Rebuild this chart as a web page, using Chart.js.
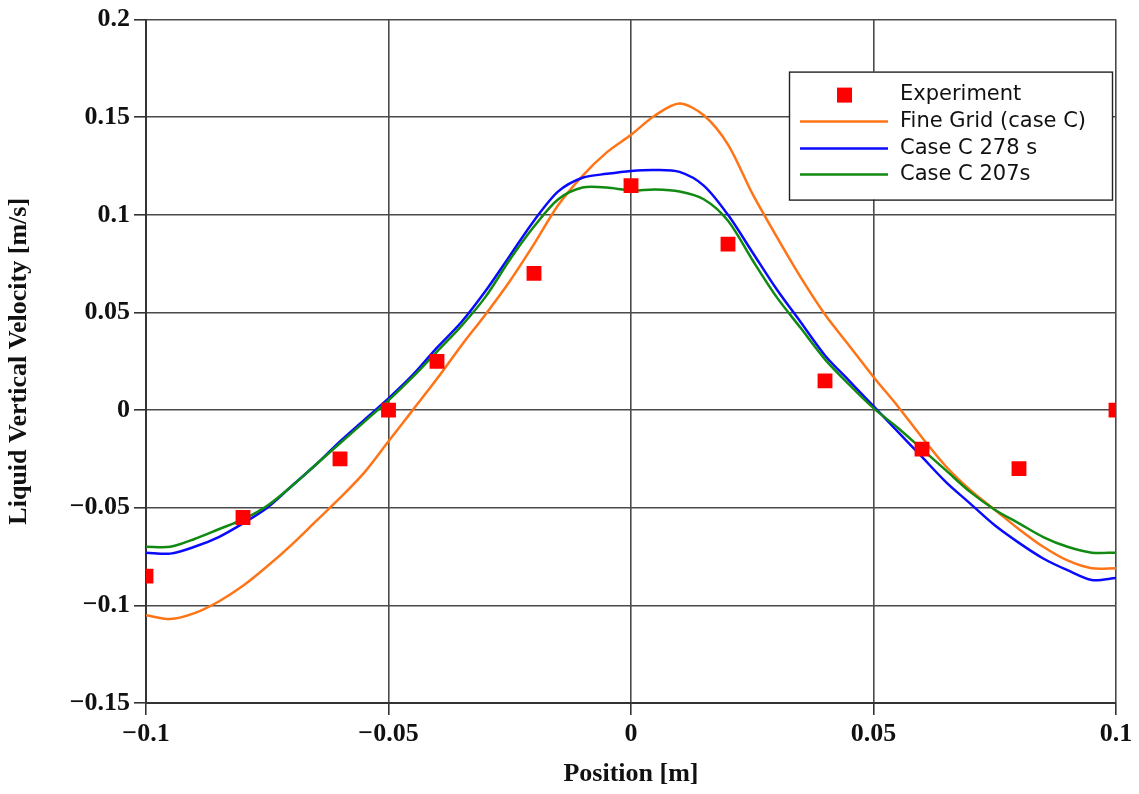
<!DOCTYPE html>
<html>
<head>
<meta charset="utf-8">
<script src="https://cdn.jsdelivr.net/npm/chart.js@4.4.1/dist/chart.umd.min.js"></script>
<style>
  html, body { margin: 0; padding: 0; background: #fff; }
  #wrap { width: 1139px; height: 794px; }
</style>
</head>
<body>
<div id="wrap"><canvas id="chart" width="1139" height="794"></canvas></div>
<script>
// --- data ---
const positions = [
  -0.1, -0.095, -0.09, -0.085, -0.08, -0.075, -0.07, -0.065, -0.06, -0.055,
  -0.05, -0.045, -0.04, -0.035, -0.03, -0.025, -0.02, -0.015, -0.01, -0.005,
  0, 0.005, 0.01, 0.015, 0.02, 0.025, 0.03, 0.035, 0.04, 0.045,
  0.05, 0.055, 0.06, 0.065, 0.07, 0.075, 0.08, 0.085, 0.09, 0.095, 0.1
];
const fineGrid = [
  -0.105, -0.107, -0.104, -0.098, -0.090, -0.080, -0.069, -0.057, -0.045, -0.032,
  -0.016, 0.000, 0.016, 0.033, 0.049, 0.066, 0.085, 0.105, 0.120, 0.132,
  0.141, 0.151, 0.157, 0.151, 0.136, 0.111, 0.089, 0.068, 0.049, 0.033,
  0.017, 0.002, -0.014, -0.029, -0.041, -0.051, -0.061, -0.070, -0.077, -0.081, -0.081
];
const case278 = [
  -0.073, -0.0735, -0.070, -0.065, -0.058, -0.050, -0.039, -0.028, -0.016, -0.005,
  0.006, 0.018, 0.032, 0.045, 0.061, 0.079, 0.097, 0.112, 0.119, 0.121,
  0.1225, 0.123, 0.122, 0.115, 0.100, 0.081, 0.062, 0.045, 0.028, 0.015,
  0.002, -0.011, -0.024, -0.037, -0.048, -0.059, -0.068, -0.076, -0.082, -0.087, -0.086
];
const case207 = [
  -0.070, -0.070, -0.066, -0.061, -0.056, -0.049, -0.039, -0.028, -0.017, -0.006,
  0.005, 0.017, 0.030, 0.043, 0.058, 0.077, 0.094, 0.108, 0.114, 0.114,
  0.1125, 0.113, 0.112, 0.108, 0.097, 0.077, 0.058, 0.042, 0.026, 0.013,
  0.001, -0.009, -0.020, -0.031, -0.042, -0.051, -0.058, -0.065, -0.070, -0.073, -0.073
];
const expPositions = [-0.1, -0.08, -0.06, -0.05, -0.04, -0.02, 0, 0.02, 0.04, 0.06, 0.08, 0.1];
const expValues = [-0.085, -0.055, -0.025, 0, 0.025, 0.07, 0.115, 0.085, 0.015, -0.02, -0.03, 0];

const seriesLabels = ['Experiment', 'Fine Grid (case C)', 'Case C 278 s', 'Case C 207s'];
const seriesColors = ['#ff0000', '#ff7417', '#0a0aff', '#118a11'];

function toPoints(xs, ys) {
  return xs.map((x, i) => ({ x: x, y: ys[i] }));
}

// 数値ラベル: マイナスは長いダッシュ
function fmtTick(v) {
  const r = Math.round(v * 1000) / 1000;
  if (r === 0) return '0';
  return (r < 0 ? '\u2212' : '') + String(Math.abs(r));
}

// legend box drawn inside the plot area
const boxLegend = {
  id: 'boxLegend',
  afterDatasetsDraw(chart) {
    const ctx = chart.ctx;
    const area = chart.chartArea;
    const w = 323, h = 128;
    const x0 = area.right - 4 - w;
    const y0 = area.top + 52;
    ctx.save();
    ctx.fillStyle = '#fff';
    ctx.fillRect(x0, y0, w, h);
    ctx.strokeStyle = '#222';
    ctx.lineWidth = 1.4;
    ctx.strokeRect(x0 + 0.5, y0 + 0.5, w, h);
    ctx.font = '21px "DejaVu Sans"';
    ctx.textBaseline = 'middle';
    ctx.textAlign = 'left';
    const rowY = [23, 50, 77, 103];
    seriesLabels.forEach((lab, i) => {
      const cy = y0 + rowY[i];
      if (i === 0) {
        ctx.fillStyle = seriesColors[0];
        ctx.fillRect(x0 + 48, cy - 7, 15, 15);
      } else {
        ctx.strokeStyle = seriesColors[i];
        ctx.lineWidth = 2.5;
        ctx.beginPath();
        ctx.moveTo(x0 + 11, cy);
        ctx.lineTo(x0 + 99, cy);
        ctx.stroke();
      }
      ctx.fillStyle = '#111';
      ctx.fillText(lab, x0 + 111, cy);
    });
    ctx.restore();
  }
};

const lineStyle = (i) => ({
  borderColor: seriesColors[i],
  backgroundColor: seriesColors[i],
  borderWidth: 2.5,
  pointRadius: 0,
  tension: 0.3,
  fill: false
});

new Chart(document.getElementById('chart'), {
  type: 'scatter',
  data: {
    datasets: [
      {
        label: seriesLabels[0],
        data: toPoints(expPositions, expValues),
        pointStyle: 'rect',
        pointRadius: 10.5,
        backgroundColor: seriesColors[0],
        borderColor: seriesColors[0],
        borderWidth: 0,
        showLine: false,
        order: 0
      },
      Object.assign({ label: seriesLabels[1], data: toPoints(positions, fineGrid), showLine: true, order: 3 }, lineStyle(1)),
      Object.assign({ label: seriesLabels[2], data: toPoints(positions, case278), showLine: true, order: 2 }, lineStyle(2)),
      Object.assign({ label: seriesLabels[3], data: toPoints(positions, case207), showLine: true, order: 1 }, lineStyle(3))
    ]
  },
  options: {
    responsive: false,
    animation: false,
    layout: { padding: { top: 16, right: 23, left: 0, bottom: 0 } },
    plugins: {
      legend: { display: false },
      tooltip: { enabled: false }
    },
    scales: {
      x: {
        type: 'linear',
        min: -0.1,
        max: 0.1,
        afterFit: (s) => { s.height = 91; },
        ticks: {
          stepSize: 0.05,
          color: '#111',
          padding: 4,
          maxRotation: 0,
          font: { family: '"Liberation Serif"', size: 26, weight: 'bold' },
          callback: (v) => fmtTick(v)
        },
        grid: { color: '#4a4a4a', lineWidth: 1.6, tickLength: 12, tickColor: '#333' },
        border: { color: '#333', width: 2 },
        title: {
          display: true,
          text: 'Position [m]',
          color: '#111',
          padding: { top: 4 },
          font: { family: '"Liberation Serif"', size: 26, weight: 'bold' }
        }
      },
      y: {
        type: 'linear',
        min: -0.15,
        max: 0.2,
        afterFit: (s) => { s.width = 146; },
        ticks: {
          stepSize: 0.05,
          color: '#111',
          padding: 4,
          font: { family: '"Liberation Serif"', size: 26, weight: 'bold' },
          callback: (v) => fmtTick(v)
        },
        grid: { color: '#4a4a4a', lineWidth: 1.6, tickLength: 12, tickColor: '#333' },
        border: { color: '#333', width: 2 },
        title: {
          display: true,
          text: 'Liquid Vertical Velocity [m/s]',
          color: '#111',
          padding: { bottom: 2 },
          font: { family: '"Liberation Serif"', size: 26, weight: 'bold' }
        }
      }
    }
  },
  plugins: [boxLegend]
});
</script>
</body>
</html>
